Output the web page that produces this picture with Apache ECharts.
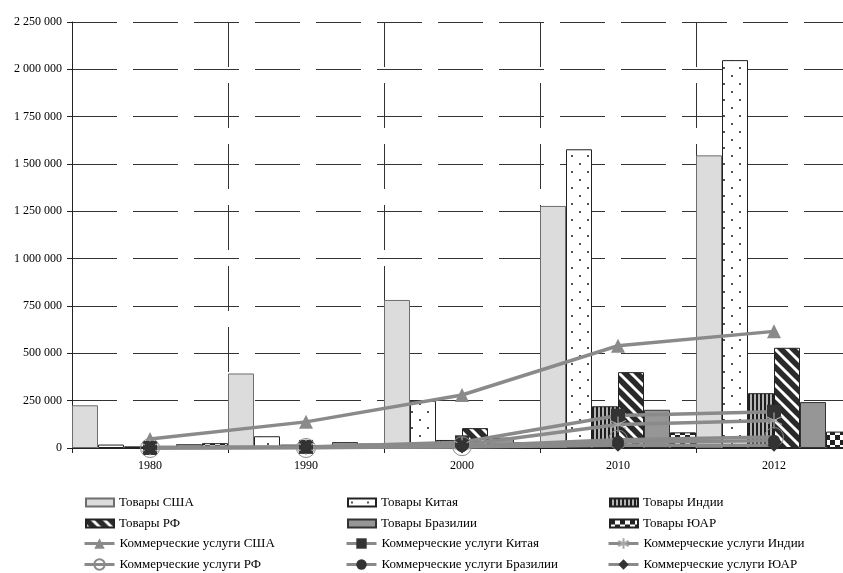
<!DOCTYPE html>
<html>
<head>
<meta charset="utf-8">
<script src="https://cdn.jsdelivr.net/npm/echarts@6/dist/echarts.min.js"></script>
<style>
  html, body { margin: 0; padding: 0; background: #fff; overflow: hidden; width: 843px; height: 573px; }
  /* the last bar group runs past the right edge, so the canvas is wider than the page */
  #chart { width: 860px; height: 573px; }
</style>
</head>
<body>
<div id="chart"></div>
<script>
// Years on the category axis
const years = ['1980', '1990', '2000', '2010', '2012'];

// Merchandise exports, million USD
const goodsUSA    = [225566, 393592, 781918, 1278495, 1545703];
const goodsChina  = [18099, 62091, 249203, 1577754, 2048714];
const goodsIndia  = [8586, 17969, 42379, 220408, 289565];
const goodsRF     = [null, null, 105033, 400630, 529255];
const goodsBrazil = [20132, 31414, 55119, 201915, 242580];
const goodsSAR    = [25539, 23549, 29983, 82626, 86712];

// Commercial services exports, million USD
const servUSA    = [47000, 138000, 280000, 540000, 616000];
const servChina  = [0, 5748, 30146, 171201, 192000];
const servIndia  = [2861, 4610, 16031, 124000, 145000];
const servRF     = [0, 0, 9565, 44159, 57997];
const servBrazil = [1597, 3706, 9498, 31821, 38118];
const servSAR    = [2000, 3376, 4846, 14012, 14679];

// Y axis range and step
const yMax = 2250000;
const yStep = 250000;

const FONT = '"Liberation Serif", "Times New Roman", serif';

function pattern(w, h, draw) {
  const c = document.createElement('canvas');
  c.width = w; c.height = h;
  const ctx = c.getContext('2d');
  draw(ctx, w, h);
  return { image: c, repeat: 'repeat' };
}

// Staggered black dots on white
const dotsFill = pattern(16, 16, (ctx, w, h) => {
  ctx.fillStyle = '#fff'; ctx.fillRect(0, 0, w, h);
  ctx.fillStyle = '#000';
  ctx.beginPath(); ctx.arc(4, 4, 0.9, 0, Math.PI * 2); ctx.fill();
  ctx.beginPath(); ctx.arc(12, 12, 0.9, 0, Math.PI * 2); ctx.fill();
});

// Narrow vertical stripes
const vStripeFill = pattern(4, 4, (ctx, w, h) => {
  ctx.fillStyle = '#b4b4b4'; ctx.fillRect(0, 0, w, h);
  ctx.fillStyle = '#1e1e1e'; ctx.fillRect(0, 0, 2, h);
});

// Wide diagonal stripes, top-left to bottom-right
const diagFill = pattern(12, 12, (ctx, w, h) => {
  ctx.fillStyle = '#fff'; ctx.fillRect(0, 0, w, h);
  ctx.strokeStyle = '#2a2a2a';
  ctx.lineWidth = 5.5;
  ctx.lineCap = 'square';
  for (let k = -2; k <= 2; k++) {
    ctx.beginPath();
    ctx.moveTo(k * w - 2, -2);
    ctx.lineTo(k * w + w + 2, h + 2);
    ctx.stroke();
  }
});

// Large checkerboard
const checkFill = pattern(10, 10, (ctx, w, h) => {
  ctx.fillStyle = '#fff'; ctx.fillRect(0, 0, w, h);
  ctx.fillStyle = '#222';
  ctx.fillRect(0, 0, 5, 5);
  ctx.fillRect(5, 5, 5, 5);
});

const barDefs = [
  { name: 'Товары США',      data: goodsUSA,    color: '#dcdcdc', border: '#6e6e6e' },
  { name: 'Товары Китая',    data: goodsChina,  color: dotsFill,  border: '#222' },
  { name: 'Товары Индии',    data: goodsIndia,  color: vStripeFill, border: '#222' },
  { name: 'Товары РФ',       data: goodsRF,     color: diagFill,  border: '#222' },
  { name: 'Товары Бразилии', data: goodsBrazil, color: '#969696', border: '#333' },
  { name: 'Товары ЮАР',      data: goodsSAR,    color: checkFill, border: '#222' }
];

const asterisk = 'path://M10,0 L10,20 M1.34,5 L18.66,15 M1.34,15 L18.66,5';

const lineDefs = [
  { name: 'Коммерческие услуги США',      data: servUSA,    symbol: 'triangle', size: 14, fill: '#8a8a8a', stroke: '#8a8a8a', bw: 0 },
  { name: 'Коммерческие услуги Китая',    data: servChina,  symbol: 'rect',     size: 14, fill: '#333',    stroke: '#333',    bw: 0 },
  { name: 'Коммерческие услуги Индии',    data: servIndia,  symbol: asterisk,   size: 16, fill: 'rgba(0,0,0,0)', stroke: '#a8a8a8', bw: 1.2 },
  { name: 'Коммерческие услуги РФ',       data: servRF,     symbol: 'circle',   size: 19, fill: 'rgba(0,0,0,0)', stroke: '#8a8a8a', bw: 1 },
  { name: 'Коммерческие услуги Бразилии', data: servBrazil, symbol: 'circle',   size: 12, fill: '#333',    stroke: '#333',    bw: 0 },
  { name: 'Коммерческие услуги ЮАР',      data: servSAR,    symbol: 'diamond',  size: 13, fill: '#333',    stroke: '#333',    bw: 0 }
];

const series = [];
barDefs.forEach(d => {
  series.push({
    name: d.name,
    type: 'bar',
    data: d.data,
    barGap: '0%',
    barCategoryGap: '0%',
    itemStyle: { color: d.color, borderColor: d.border, borderWidth: 1 },
    emphasis: { disabled: true },
    animation: false
  });
});
lineDefs.forEach(d => {
  series.push({
    name: d.name,
    type: 'line',
    data: d.data,
    symbol: d.symbol,
    symbolSize: d.size,
    showAllSymbol: true,
    lineStyle: { color: '#8a8a8a', width: 3.5 },
    itemStyle: { color: d.fill, borderColor: d.stroke, borderWidth: d.bw },
    emphasis: { disabled: true },
    animation: false,
    z: 3
  });
});

// Legend: three columns, four rows
const colLeft = [85, 347, 609];
const rowTop = [496, 517, 538, 559];
const legendNames = barDefs.map(d => d.name).concat(lineDefs.map(d => d.name));
const legends = legendNames.map((name, i) => {
  const isLine = i >= 6;
  const leg = {
    data: [name],
    left: colLeft[i % 3] - (isLine ? 2 : 0),
    top: rowTop[Math.floor(i / 3)] - (isLine ? 1 : 0),
    orient: 'horizontal',
    padding: 0,
    itemWidth: isLine ? 30 : 28,
    itemHeight: isLine ? 13 : 8,
    selectedMode: false,
    textStyle: { fontFamily: FONT, fontSize: 13, color: '#000' }
  };
  if (isLine) {
    leg.lineStyle = { width: 3, color: '#8a8a8a' };
  } else {
    leg.icon = 'rect';
  }
  return leg;
});

const chart = echarts.init(document.getElementById('chart'), null, { renderer: 'canvas' });
chart.setOption({
  animation: false,
  backgroundColor: '#fff',
  grid: { left: 72, top: 22, width: 780, height: 426, containLabel: false },
  legend: legends,
  xAxis: {
    type: 'category',
    data: years,
    boundaryGap: true,
    axisLine: { show: true, lineStyle: { color: '#222', width: 1 } },
    axisTick: { show: true, length: 5, alignWithLabel: false, lineStyle: { color: '#222' } },
    axisLabel: { color: '#000', fontFamily: FONT, fontSize: 12, margin: 12 },
    splitLine: { show: true, lineStyle: { color: '#333', width: 1, type: [45, 16] } }
  },
  yAxis: {
    type: 'value',
    min: 0,
    max: yMax,
    interval: yStep,
    axisLine: { show: true, lineStyle: { color: '#222', width: 1 } },
    axisTick: { show: true, length: 5, lineStyle: { color: '#222' } },
    axisLabel: {
      color: '#000', fontFamily: FONT, fontSize: 12, margin: 10,
      formatter: v => String(v).replace(/\B(?=(\d{3})+(?!\d))/g, ' ')
    },
    splitLine: { show: true, lineStyle: { color: '#333', width: 1, type: [45, 16] } }
  },
  series: series
});
</script>
</body>
</html>
